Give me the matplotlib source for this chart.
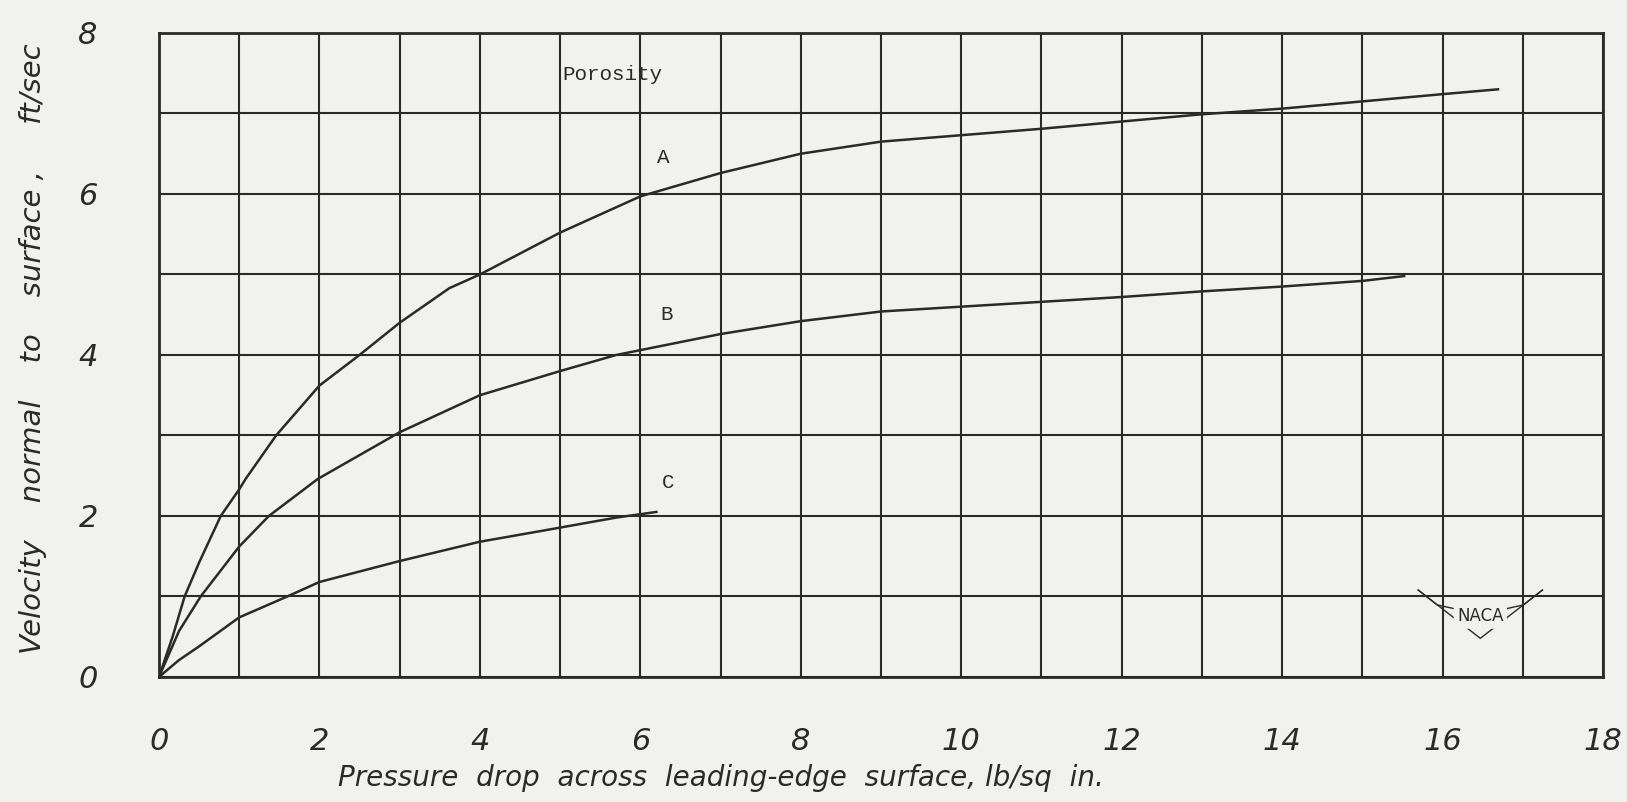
import numpy as np
import matplotlib.pyplot as plt

# (pressure drop lb/sq in vs velocity ft/sec)
xa = [0, 0.17, 0.32, 0.5, 0.77, 1, 1.08, 1.46, 2, 2.5, 3, 3.62, 4, 5, 6, 7, 8, 9, 10, 11, 12, 13, 14, 15, 16, 16.69]
ya = [0, 0.5, 1.0, 1.42, 2.0, 2.33, 2.46, 3.0, 3.62, 4.0, 4.4, 4.83, 5.0, 5.52, 5.97, 6.26, 6.5, 6.65, 6.73, 6.81, 6.9, 6.99, 7.06, 7.15, 7.24, 7.3]

xb = [0, 0.25, 0.52, 1, 1.37, 1.98, 3, 4, 5, 5.7, 6, 7, 8, 9, 10, 11, 12, 13, 14, 15, 15.52]
yb = [0, 0.57, 1.0, 1.62, 2.0, 2.46, 3.04, 3.5, 3.8, 4.0, 4.06, 4.26, 4.42, 4.54, 4.6, 4.66, 4.72, 4.79, 4.85, 4.92, 4.98]

xc = [0, 0.25, 0.5, 1, 1.6, 2, 3, 4, 4.8, 5.7, 6.2]
yc = [0, 0.21, 0.38, 0.74, 1.0, 1.18, 1.44, 1.68, 1.82, 1.98, 2.05]

curve_names = ['A', 'B', 'C']
label_x = [6.28, 6.33, 6.35]
label_y = [6.45, 4.5, 2.42]

xticks = [0, 2, 4, 6, 8, 10, 12, 14, 16, 18]
yticks = [0, 2, 4, 6, 8]

ink = '#2a2a2a'
paper = '#f1f1ef'

fig = plt.figure(figsize=(16.27, 8.02), dpi=100, facecolor=paper)
ax = fig.add_axes([0.0977, 0.1559, 0.8876, 0.803])
ax.set_facecolor(paper)

ax.plot(xa, ya, color=ink, lw=1.8)
ax.plot(xb, yb, color=ink, lw=1.8)
ax.plot(xc, yc, color=ink, lw=1.8)

for name, lx, ly in zip(curve_names, label_x, label_y):
    ax.text(lx, ly, name, fontsize=15, family='Liberation Mono', color=ink,
            ha='center', va='center')
ax.text(5.65, 7.48, 'Porosity', fontsize=15, family='Liberation Mono', color=ink,
        ha='center', va='center')

ax.set_xlim(0, 18)
ax.set_ylim(0, 8)
ax.set_xticks(np.arange(0, 19, 1), minor=True)
ax.set_yticks(np.arange(0, 9, 1), minor=True)
ax.set_xticks(xticks)
ax.set_yticks(yticks)
ax.set_xticklabels([str(t) for t in xticks])
ax.set_yticklabels([str(t) for t in yticks])
ax.grid(True, which='both', color=ink, lw=1.5)
ax.tick_params(which='both', length=0)
ax.tick_params(axis='x', pad=36)
ax.tick_params(axis='y', pad=44)
for lab in ax.get_xticklabels() + ax.get_yticklabels():
    lab.set_fontsize(22)
    lab.set_fontstyle('italic')
    lab.set_color(ink)
for sp in ax.spines.values():
    sp.set_color(ink)
    sp.set_linewidth(2)

fig.text(0.443, 0.03, 'Pressure  drop  across  leading-edge  surface, lb/sq  in.',
         fontsize=20, style='italic', color=ink, ha='center', va='center')
fig.text(0.02, 0.565, 'Velocity    normal    to    surface ,     ft/sec',
         fontsize=21, style='italic', color=ink, ha='center', va='center', rotation=90)

# NACA wing emblem in the lower right corner
wx = [0.872, 0.885, 0.905, 0.925, 0.945, 0.958]
wy = [0.135, 0.112, 0.102, 0.102, 0.112, 0.135]
ax.plot(wx, wy, color=ink, lw=1, transform=ax.transAxes)
ax.plot([0.872, 0.915, 0.958], [0.135, 0.06, 0.135], color=ink, lw=1, transform=ax.transAxes)
ax.text(0.915, 0.094, 'NACA', fontsize=12, color=ink, ha='center', va='center',
        transform=ax.transAxes, bbox=dict(boxstyle='round,pad=0.2', fc=paper, ec='none'))

fig.savefig('out.png', dpi=100, facecolor=paper)
